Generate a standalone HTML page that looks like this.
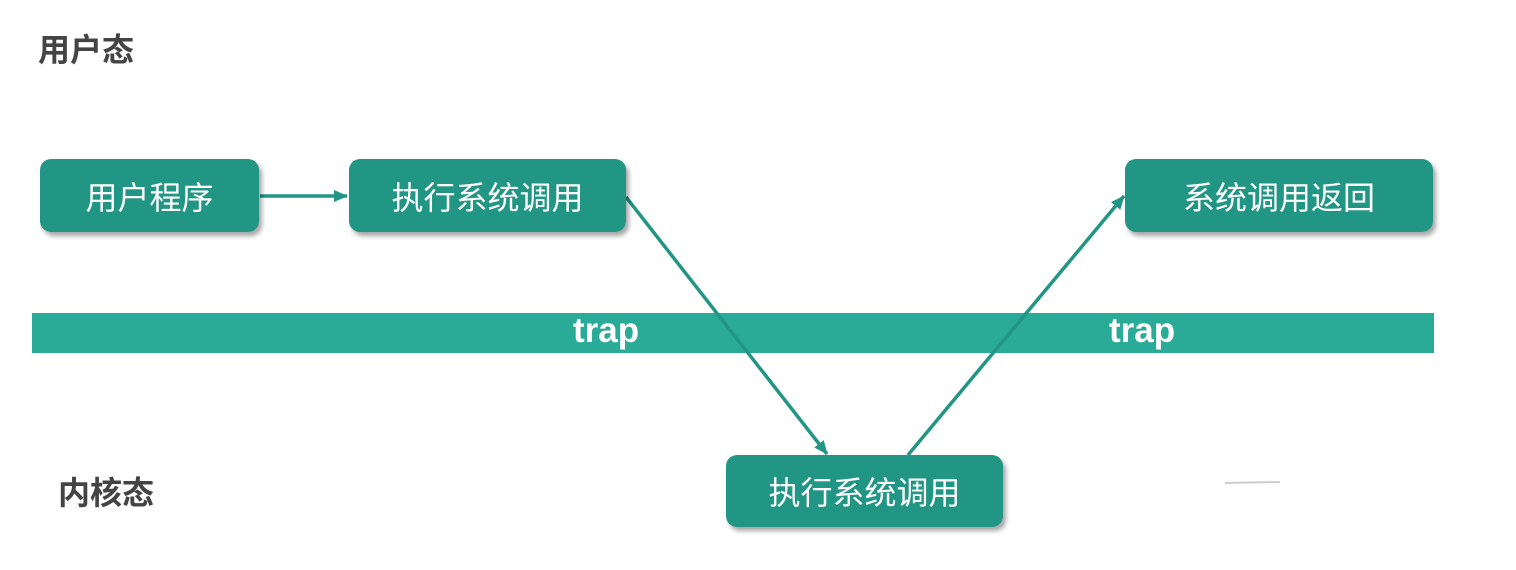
<!DOCTYPE html>
<html><head><meta charset="utf-8"><style>
html,body{margin:0;padding:0;background:#fff;width:1516px;height:570px;overflow:hidden;position:relative;font-family:"Liberation Sans","Noto Sans CJK SC",sans-serif}
.t{position:absolute;color:#444;font-weight:bold;font-size:32px;line-height:36px}
.b{position:absolute;background:#229684;border-radius:11px;box-shadow:3px 4px 5px rgba(0,0,0,.35);color:#fff;font-size:32px;display:flex;align-items:center;justify-content:center}
.bar{position:absolute;left:32px;top:313px;width:1402px;height:40px;background:#29ab98}
.tr{position:absolute;color:#fff;font-weight:bold;font-size:35px;line-height:40px;top:311px}
</style></head><body>
<div class="t" style="left:38px;top:32px">用户态</div>
<div class="t" style="left:58px;top:475px">内核态</div>
<div class="bar"></div>
<div class="tr" style="left:573px">trap</div>
<div class="tr" style="left:1109px">trap</div>
<svg width="1516" height="570" style="position:absolute;left:0;top:0">
<defs><marker id="a" markerWidth="14" markerHeight="12" refX="13" refY="6" orient="auto" markerUnits="userSpaceOnUse"><path d="M0,0 L14,6 L0,12 Z" fill="#229684"/></marker></defs>
<g stroke="#229684" stroke-width="3.5" fill="none">
<line x1="260" y1="196" x2="347" y2="196" marker-end="url(#a)"/>
<line x1="626" y1="197" x2="827" y2="454" marker-end="url(#a)"/>
<line x1="908" y1="455" x2="1124" y2="196" marker-end="url(#a)"/>
</g>
<line x1="1225" y1="483" x2="1280" y2="482" stroke="#ccc" stroke-width="2"/>
</svg>
<div class="b" style="left:40px;top:159px;width:219px;height:73px">用户程序</div>
<div class="b" style="left:349px;top:159px;width:277px;height:73px">执行系统调用</div>
<div class="b" style="left:1125px;top:159px;width:308px;height:73px">系统调用返回</div>
<div class="b" style="left:726px;top:455px;width:277px;height:72px">执行系统调用</div>
</body></html>
